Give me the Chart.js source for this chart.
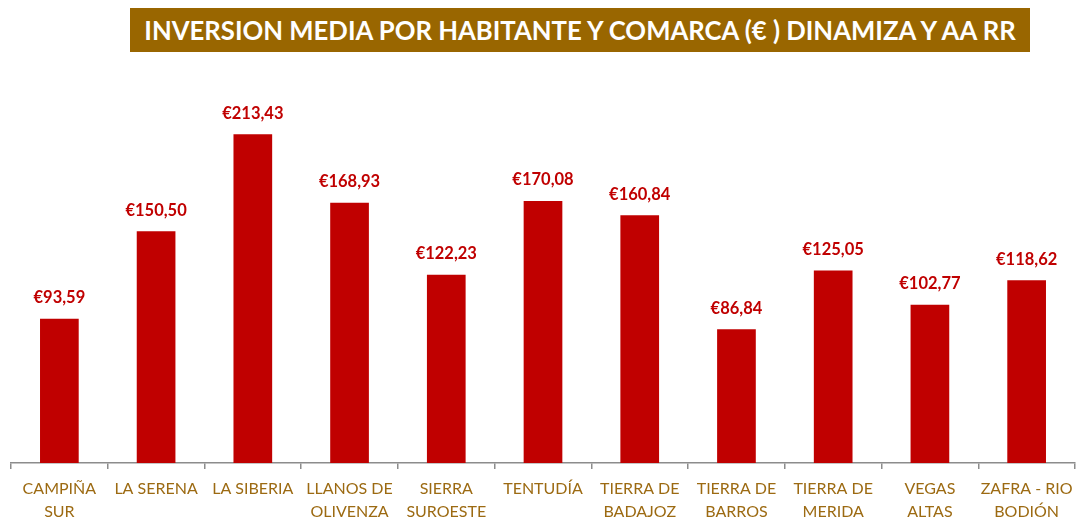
<!DOCTYPE html>
<html>
<head>
<meta charset="utf-8">
<script src="https://cdn.jsdelivr.net/npm/chart.js@4"></script>
<style>
    html, body { margin: 0; padding: 0; background: #fff; overflow: hidden; }
    #wrap { position: relative; width: 1076px; height: 517px; }
    #title { position: absolute; left: 130px; top: 8px; width: 900px; height: 44px; background: #996600; color: #fff; font: bold 25.7px Lato, sans-serif; text-align: center; line-height: 44px; white-space: nowrap; }
    #chartBox { position: absolute; left: 0; top: 0; width: 1076px; height: 517px; }
</style>
</head>
<body>
<div id="wrap">
    <canvas id="chartBox" width="1076" height="517"></canvas>
    <div id="title">INVERSION MEDIA POR HABITANTE Y COMARCA (€ ) DINAMIZA Y AA RR</div>
</div>
<script>
const comarcas = [['CAMPIÑA', 'SUR'], 'LA SERENA', 'LA SIBERIA', ['LLANOS DE', 'OLIVENZA'], ['SIERRA', 'SUROESTE'], 'TENTUDÍA', ['TIERRA DE', 'BADAJOZ'], ['TIERRA DE', 'BARROS'], ['TIERRA DE', 'MERIDA'], ['VEGAS', 'ALTAS'], ['ZAFRA - RIO', 'BODIÓN']];
const inversion = [93.59, 150.50, 213.43, 168.93, 122.23, 170.08, 160.84, 86.84, 125.05, 102.77, 118.62];

const fmtEuro = v => '€' + v.toFixed(2).replace('.', ',');

// etiquetas encima de cada barra
const barLabels = {
    id: 'barLabels',
    afterDatasetsDraw(c) {
        const ctx = c.ctx;
        const meta = c.getDatasetMeta(0);
        ctx.save();
        ctx.fillStyle = '#c00000';
        ctx.font = 'bold 16.5px Lato, sans-serif';
        ctx.textAlign = 'center';
        ctx.textBaseline = 'middle';
        meta.data.forEach((bar, i) => {
            ctx.fillText(fmtEuro(inversion[i]), bar.x, bar.y - 21);
        });
        ctx.restore();
    }
};

new Chart(document.getElementById('chartBox').getContext('2d'), {
    type: 'bar',
    data: { labels: comarcas, datasets: [{ data: inversion, backgroundColor: '#c00000', categoryPercentage: 1, barPercentage: 0.4 }] },
    options: {
        responsive: false,
        animation: false,
        layout: { padding: { left: 11, right: 1, top: 78, bottom: 0 } },
        plugins: { legend: { display: false }, tooltip: { enabled: false } },
        scales: {
            y: { display: false, min: 0, max: 250 },
            x: {
                offset: true,
                grid: { offset: true, drawOnChartArea: false, color: '#8c8c8c', tickLength: 6, lineWidth: 1.5 },
                border: { color: '#8c8c8c', width: 1.5 },
                ticks: { color: '#9c6a12', font: { family: 'Lato, sans-serif', size: 16, lineHeight: 1.4 }, padding: 9, maxRotation: 0, autoSkip: false },
                afterFit(scale) { scale.height = 54; scale.paddingLeft = 0; scale.paddingRight = 0; }
            }
        }
    },
    plugins: [barLabels]
});
</script>
</body>
</html>
